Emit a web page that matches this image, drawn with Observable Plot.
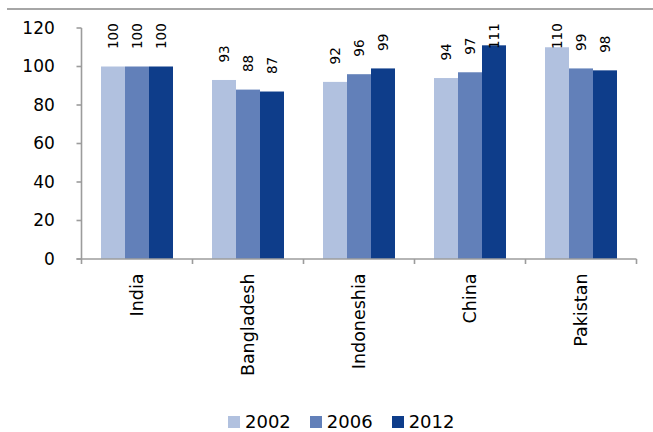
<!DOCTYPE html>
<html>
<head>
<meta charset="utf-8">
<script src="https://cdn.jsdelivr.net/npm/d3@7"></script>
<script src="https://cdn.jsdelivr.net/npm/@observablehq/plot@0.6"></script>
<style>
  body { margin: 0; background: #fff; font-family: "DejaVu Sans", sans-serif; }
  #wrap { position: relative; width: 653px; height: 432px; overflow: hidden; background: #fff; }
  #rule { position: absolute; left: 7px; right: 0; top: 8px; height: 2px; background: #a6a6a6; }
  #chart { position: absolute; left: 0; top: 0; }
  #chart svg, #chart svg text { font-family: "DejaVu Sans", sans-serif; }
  #legend { position: absolute; left: 228px; top: 412px; display: flex; align-items: center;
            font-size: 18px; color: #000; line-height: 20px; }
  #legend .item { display: flex; align-items: center; margin-right: 19px; }
  #legend .sw { width: 12px; height: 12px; margin-right: 5px; }
</style>
</head>
<body>
<div id="wrap">
  <div id="rule"></div>
  <div id="chart"></div>
  <div id="legend"></div>
</div>
<script>
// Index values by country and survey year
const countries = ["India", "Bangladesh", "Indoneshia", "China", "Pakistan"];
const years = ["2002", "2006", "2012"];
const v2002 = [100, 93, 92, 94, 110];
const v2006 = [100, 88, 96, 97, 99];
const v2012 = [100, 87, 99, 111, 98];
const yTicks = [0, 20, 40, 60, 80, 100, 120];
const colors = ["#b1c1df", "#6280b9", "#0e3d8a"];

const series = [v2002, v2006, v2012];
const rows = countries.flatMap((c, i) =>
  series.map((s, j) => ({ country: c, year: years[j], value: s[i] }))
);

const font = "DejaVu Sans, sans-serif";
const axisColor = "#9c9c9c";

// Frame and band layout
const W = 653, H = 400, mLeft = 80, mRight = 16;
const padInner = 0.336, padOuter = 0.168;
const step = (W - mLeft - mRight) / (countries.length - padInner + 2 * padOuter);
const outerGap = step * padOuter; // space between the y axis line and the first group

const plot = Plot.plot({
  width: W,
  height: H,
  marginLeft: mLeft,
  marginRight: mRight,
  marginTop: 28,
  marginBottom: 141,
  style: { fontFamily: font, background: "transparent", overflow: "visible", color: "#000" },
  fx: { domain: countries, range: [mLeft, W - mRight], paddingInner: padInner, paddingOuter: padOuter, label: null },
  x: { domain: years, padding: 0, axis: null },
  y: { domain: [0, 120], ticks: yTicks },
  color: { domain: years, range: colors },
  marks: [
    Plot.barY(rows, { fx: "country", x: "year", y: "value", fill: "year" }),
    // value labels sit above each bar, held below the top of the plot area
    Plot.text(rows, {
      fx: "country", x: "year",
      y: d => Math.min(d.value, 100),
      text: d => String(d.value),
      rotate: -90, textAnchor: "start", dy: -18,
      fontSize: 13.5, fontFamily: font, fill: "#000"
    }),
    Plot.axisY({ ticks: yTicks, tickSize: 0, tickPadding: 27 + outerGap, fontSize: 17, fontFamily: font, label: null, fill: "#000" }),
    Plot.axisFx({ anchor: "bottom", tickSize: 0, tickRotate: -90, tickPadding: 14, fontSize: 17.5, fontFamily: font, label: null, fill: "#000" })
  ]
});

document.getElementById("chart").appendChild(plot);

// Axis lines and tick marks, placed from the chart's own scales
const fx = plot.scale("fx");
const y = plot.scale("y");
const svg = d3.select(plot.tagName.toLowerCase() === "svg" ? plot : plot.querySelector("svg"));
const gap = fx.step - fx.bandwidth;
const edges = countries.map(c => fx.apply(c) - gap / 2);
edges.push(fx.apply(countries[countries.length - 1]) + fx.bandwidth + gap / 2);
const y0 = y.apply(0), yTop = y.apply(120);
const g = svg.append("g").attr("stroke", axisColor).attr("stroke-width", 1.6).attr("fill", "none");
g.append("line").attr("x1", edges[0]).attr("x2", edges[0]).attr("y1", yTop).attr("y2", y0);
yTicks.forEach(t => g.append("line").attr("x1", edges[0] - 5).attr("x2", edges[0]).attr("y1", y.apply(t)).attr("y2", y.apply(t)));
g.append("line").attr("x1", edges[0] - 5).attr("x2", edges[edges.length - 1]).attr("y1", y0).attr("y2", y0);
edges.forEach(e => g.append("line").attr("x1", e).attr("x2", e).attr("y1", y0).attr("y2", y0 + 5));

// Legend
const legend = document.getElementById("legend");
years.forEach((yr, i) => {
  const item = document.createElement("div");
  item.className = "item";
  const sw = document.createElement("div");
  sw.className = "sw";
  sw.style.background = colors[i];
  const label = document.createElement("span");
  label.textContent = yr;
  item.appendChild(sw);
  item.appendChild(label);
  legend.appendChild(item);
});
</script>
</body>
</html>
